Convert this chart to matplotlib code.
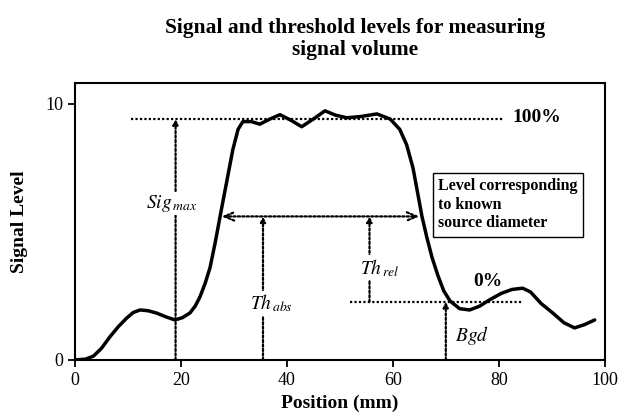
import matplotlib
matplotlib.use('Agg')
import matplotlib.pyplot as plt

# signal profile
pos = [0, 2, 3.5, 5, 6.6, 8.2, 9.8, 11, 12.3, 13.8, 15.4, 17.2, 18.9, 20.3, 21.7,
       22.7, 23.6, 24.6, 25.5, 26.5, 27.4, 28.6, 29.8, 30.8, 31.7, 33.3, 34.9,
       36.8, 38.7, 40.8, 42.8, 45, 47.2, 49.2, 51.3, 54, 57, 59.5, 61.3, 62.6,
       63.8, 64.7, 65.5, 66.4, 67.4, 68.5, 69.6, 70.8, 72.6, 74.5, 76.4, 78.3,
       80.5, 82.5, 84.5, 86, 88, 90.2, 92.3, 94.3, 96.2, 98.1]
sig = [0, 0.03, 0.15, 0.45, 0.9, 1.3, 1.64, 1.85, 1.95, 1.92, 1.83, 1.68, 1.56,
       1.65, 1.83, 2.1, 2.46, 3.0, 3.6, 4.6, 5.6, 6.9, 8.2, 9.0, 9.3, 9.3, 9.2,
       9.4, 9.57, 9.35, 9.1, 9.4, 9.72, 9.55, 9.45, 9.5, 9.6, 9.4, 9.0, 8.4,
       7.5, 6.5, 5.6, 4.8, 4.0, 3.3, 2.7, 2.3, 2.0, 1.95, 2.1, 2.35, 2.6, 2.75,
       2.8, 2.65, 2.2, 1.83, 1.45, 1.25, 1.38, 1.56]

sig_max = 9.4
bgd = 2.27
th_level = 5.6
x_sigmax, x_thabs, x_threl, x_bgd = 19, 35.5, 55.6, 70
x_left, x_right = 27.7, 65.0

plt.rcParams['font.family'] = ['Liberation Serif', 'DejaVu Serif']
plt.rcParams['mathtext.fontset'] = 'stix'

fig = plt.figure(figsize=(6.19, 4.2), dpi=100)
ax = fig.add_axes([0.121, 0.143, 0.856, 0.659])

dot = dict(color='black', lw=1.6, linestyle=(0, (1, 1)))

# reference levels
ax.plot([10.5, 81], [sig_max, sig_max], **dot)
ax.plot([52, 84.3], [bgd, bgd], **dot)

# signal curve
ax.plot(pos, sig, color='black', lw=2.5, solid_capstyle='round',
        solid_joinstyle='round', zorder=5)

# vertical arrows
def varrow(x, y0, y1, head):
    ax.annotate('', xy=(x, y1), xytext=(x, y0),
                arrowprops=dict(arrowstyle=head, color='black', lw=1.6,
                                linestyle=(0, (1, 1)), shrinkA=0, shrinkB=0))

varrow(x_sigmax, 0, sig_max, '-|>,head_width=0.15,head_length=0.3')
varrow(x_thabs, 0, th_level, '-|>,head_width=0.15,head_length=0.3')
varrow(x_threl, bgd, th_level, '-|>,head_width=0.15,head_length=0.3')
varrow(x_bgd, 0, bgd, '-|>,head_width=0.15,head_length=0.3')

# horizontal double arrow
ax.annotate('', xy=(x_right, th_level), xytext=(x_left, th_level),
            arrowprops=dict(arrowstyle='<->,head_width=0.3,head_length=0.7',
                            color='black', lw=1.6, linestyle=(0, (1, 1)),
                            shrinkA=0, shrinkB=0))

lab = dict(fontsize=14, ha='center', va='center',
           bbox=dict(facecolor='white', edgecolor='none', pad=1))
ax.text(18.3, 6.1, r'$Sig_{\,max}$', zorder=6, **lab)
ax.text(37, 2.2, r'$Th_{\,abs}$', zorder=6, **lab)
ax.text(57.5, 3.6, r'$Th_{\,rel}$', zorder=6, **lab)
ax.text(75, 0.95, r'$Bgd$', fontsize=14, ha='center', va='center')

ax.text(82.5, 9.45, '100%', fontsize=14, fontweight='bold', va='center')
ax.text(78, 3.05, '0%', fontsize=14, fontweight='bold', ha='center', va='center')

ax.text(68.6, 6.05, 'Level corresponding\nto known\nsource diameter',
        fontsize=11.5, fontweight='bold', va='center', ha='left', linespacing=1.2,
        bbox=dict(facecolor='white', edgecolor='black', lw=1, pad=4), zorder=7)

ax.set_xlim(0, 100)
ax.set_ylim(0, 10.8)
ax.set_xticks([0, 20, 40, 60, 80, 100])
ax.set_yticks([0, 10])
ax.tick_params(direction='out', length=5, width=1.3, labelsize=13)
for s in ax.spines.values():
    s.set_linewidth(1.5)

ax.set_xlabel('Position (mm)', fontsize=14, fontweight='bold', labelpad=4)
ax.set_ylabel('Signal Level', fontsize=14, fontweight='bold', labelpad=12)
ax.set_title('Signal and threshold levels for measuring\nsignal volume',
             fontsize=15.5, fontweight='bold', pad=20, linespacing=1.15)
ax.title.set_x(0.528)

fig.savefig('out.png', dpi=100)
